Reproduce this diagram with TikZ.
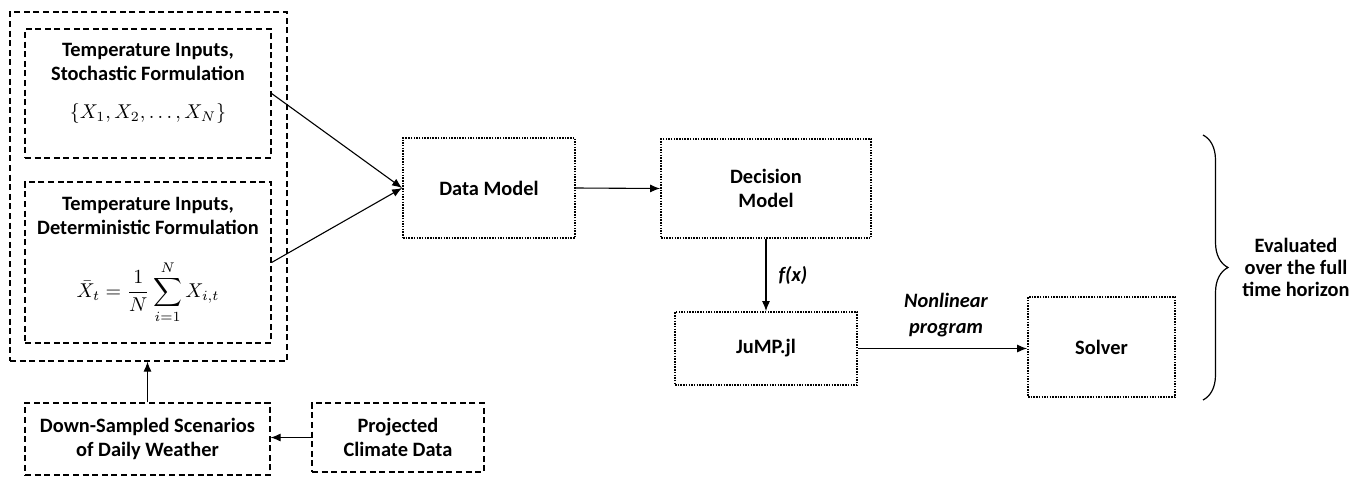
\documentclass[tikz,border=0pt]{standalone}
\usepackage{fontspec}
\setmainfont{Carlito}
\usetikzlibrary{arrows.meta,decorations.pathreplacing}
\begin{document}
\begin{tikzpicture}[x=0.5pt,y=-0.5pt,
 dbox/.style={draw, dash pattern=on 3pt off 1.8pt, line width=0.6pt, inner sep=0pt},
 obox/.style={draw, dash pattern=on 0.75pt off 0.6pt, line width=0.9pt, inner sep=0pt},
 lbl/.style={font=\bfseries\fontsize{10.2}{12}\selectfont, align=center, inner sep=0pt},
 ilbl/.style={font=\bfseries\itshape\fontsize{10.2}{13}\selectfont, align=center, inner sep=0pt},
 mth/.style={font=\fontsize{10}{12}\selectfont, inner sep=0pt},
 arr/.style={-{Latex[length=5pt,width=4pt]}, line width=0.55pt}
]
\useasboundingbox (0,0) rectangle (1361,477);

% left group
\node[dbox, minimum width=138.5pt, minimum height=174.5pt] (outer) at (148.5,186.5) {};
\node[dbox, minimum width=123pt, minimum height=64.5pt] (top) at (148,93.5) {};
\node[dbox, minimum width=123pt, minimum height=80.5pt] (bot) at (148,262.5) {};
\node[lbl] (toptitle) at (148,62) {Temperature Inputs,\\Stochastic Formulation};
\node[mth] (topmath) at (148,113) {$\{X_1, X_2, \dots, X_N\}$};
\node[lbl] (bottitle) at (148,216) {Temperature Inputs,\\Deterministic Formulation};
\node[mth] (botmath) at (148,292) {$\displaystyle \bar{X}_t = \frac{1}{N}\sum_{i=1}^{N} X_{i,t}$};

\node[dbox, lbl, minimum width=122.5pt, minimum height=36pt] (down) at (147.5,439) {Down-Sampled Scenarios\\of Daily Weather};
\node[dbox, lbl, minimum width=86pt, minimum height=34.5pt] (proj) at (398,437.5) {Projected\\Climate Data};

% models
\node[obox, lbl, minimum width=86pt, minimum height=50pt] (data) at (489,188) {Data Model};
\node[obox, lbl, minimum width=105pt, minimum height=49.5pt] (dec) at (766,188.5) {Decision\\Model};
\node[obox, lbl, minimum width=91pt, minimum height=36.5pt] (jump) at (766,348.5) {JuMP.jl};
\node[obox, lbl, minimum width=73.5pt, minimum height=50pt] (solver) at (1101.5,347) {Solver};

\node[ilbl] (fx) at (793,275) {f(x)};
\node[ilbl] (nlp) at (946,315) {Nonlinear\\program};

% connectors
\draw[arr] (top.east) -- (data.west);
\draw[arr] (bot.east) -- (data.west);
\draw[arr] (data.east) -- (dec.west);
\draw[arr] (dec.south) -- (jump.north);
\draw[arr] (jump.east) -- (jump.east -| solver.west);
\draw[arr] (down.north) -- (down.north |- outer.south);
\draw[arr] (proj.west) -- (proj.west -| down.east);

% brace
\coordinate (bt) at (1203,135);
\coordinate (bb) at (1203,400);
\draw[decorate, decoration={brace, amplitude=12.5pt}, line width=0.6pt] (bt) -- (bb);
\node[lbl, font=\bfseries\fontsize{10.2}{11}\selectfont] (eval) at (1296,267) {Evaluated\\over the full\\time horizon};
\end{tikzpicture}
\end{document}
